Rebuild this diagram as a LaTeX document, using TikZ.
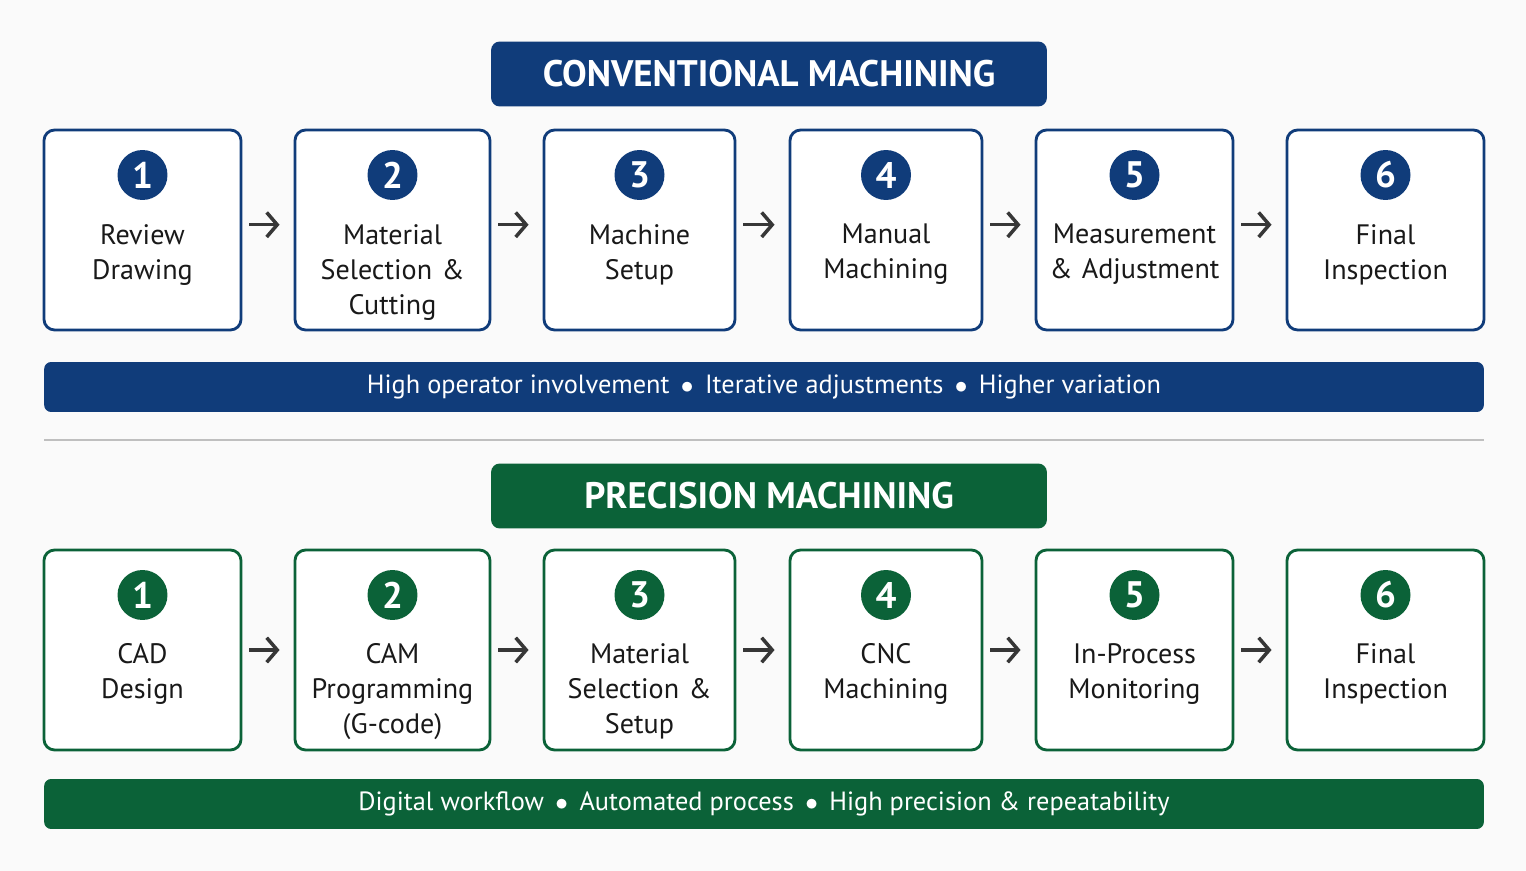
\documentclass[tikz,border=0pt]{standalone}
\usetikzlibrary{arrows.meta,positioning,calc}
\usepackage{fontspec}
\setmainfont{PT Sans}
\definecolor{convblue}{RGB}{16,60,122}
\definecolor{precgreen}{RGB}{11,98,56}
\definecolor{arrowgray}{RGB}{55,55,55}

\tikzset{
  step/.style={draw=#1, line width=1.6pt, rounded corners=6pt, fill=white,
    minimum height=4cm, inner sep=0pt},
  num/.style={circle, fill=#1, minimum size=1cm, inner sep=0pt, text=white,
    font=\fontsize{21}{21}\selectfont\bfseries},
  label/.style={align=center, anchor=north, text width=3.8cm,
    font=\fontsize{16}{19.9}\selectfont, text=black!90},
  title/.style={fill=#1, rounded corners=5pt, text=white, minimum height=1.3cm,
    minimum width=11.12cm, font=\fontsize{21}{21}\selectfont\bfseries},
  band/.style={fill=#1, rounded corners=4pt, text=white, minimum height=1cm,
    minimum width=28.8cm, font=\fontsize{15}{15}\selectfont},
  flow/.style={->, >={Straight Barb[length=6pt,width=14pt]}, line width=2pt,
    draw=arrowgray, shorten <=4pt, shorten >=8pt}
}

\begin{document}
\begin{tikzpicture}[x=0.02cm, y=-0.02cm]
\useasboundingbox (0,0) rectangle (1526,871);
\fill[black!2] (0,0) rectangle (1526,871);

% --- Headings ---
\node[title=convblue] (convtitle) at (769,74) {CONVENTIONAL MACHINING};
\node[title=precgreen] (prectitle) at (769,496) {PRECISION MACHINING};

% --- Conventional row ---
\foreach \i/\l/\r/\txt in {1/44/241/{Review\\Drawing},
    2/295/490/{Material\\Selection \&\\Cutting},
    3/544/735/{Machine\\Setup},
    4/790/982/{Manual\\Machining},
    5/1036/1233/{Measurement\\\& Adjustment},
    6/1287/1484/{Final\\Inspection}} {
  \node[step=convblue, minimum width={(\r-\l)*0.02cm}] (c\i) at ({(\l+\r)/2},230) {};
  \node[num=convblue] (cn\i) at ({(\l+\r)/2},175) {\i};
  \node[label] (ct\i) at ({(\l+\r)/2},218) {\txt};
}
\foreach \i [count=\j from 2] in {1,...,5}
  \draw[flow] ([yshift=3pt]c\i.east) -- ([yshift=3pt]c\j.west);

\node[band=convblue] (convband) at (764,387)
  {High operator involvement \,$\bullet$\, Iterative adjustments \,$\bullet$\, Higher variation};

\draw[black!25, line width=0.8pt] (44,440) -- (1484,440);

% --- Precision row ---
\foreach \i/\l/\r/\txt in {1/44/241/{CAD\\Design},
    2/295/490/{CAM\\Programming\\(G-code)},
    3/544/735/{Material\\Selection \&\\Setup},
    4/790/982/{CNC\\Machining},
    5/1036/1233/{In-Process\\Monitoring},
    6/1287/1484/{Final\\Inspection}} {
  \node[step=precgreen, minimum width={(\r-\l)*0.02cm}] (p\i) at ({(\l+\r)/2},650) {};
  \node[num=precgreen] (pn\i) at ({(\l+\r)/2},595) {\i};
  \node[label] (pt\i) at ({(\l+\r)/2},637) {\txt};
}
\foreach \i [count=\j from 2] in {1,...,5}
  \draw[flow] (p\i) -- (p\j);

\node[band=precgreen] (precband) at (764,804)
  {Digital workflow \,$\bullet$\, Automated process \,$\bullet$\, High precision \& repeatability};
\end{tikzpicture}
\end{document}
